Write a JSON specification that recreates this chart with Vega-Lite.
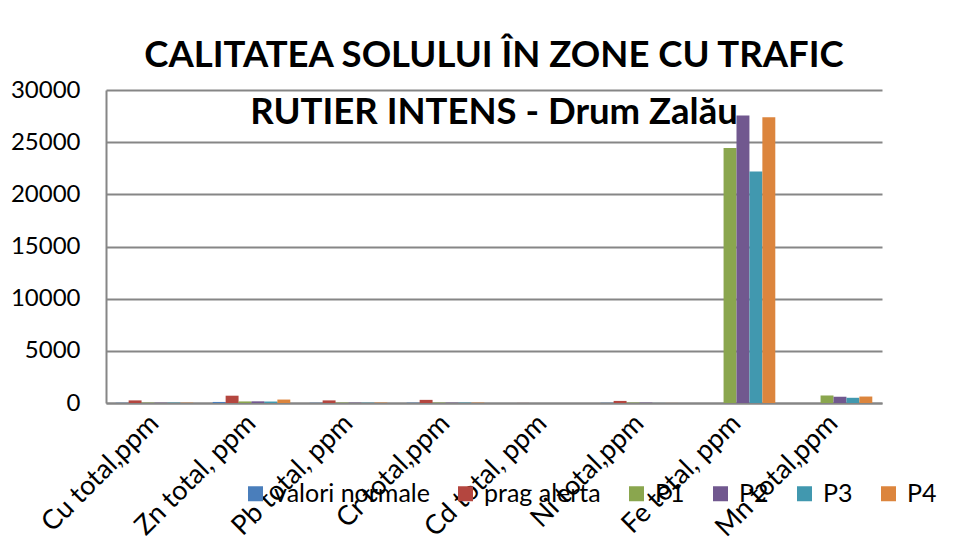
{
  "$schema": "https://vega.github.io/schema/vega-lite/v6.json",
  "autosize": "none",
  "padding": {"left": 106, "top": 90, "right": 76, "bottom": 152},
  "width": 776,
  "height": 313,
  "background": "white",
  "title": {
    "text": ["CALITATEA SOLULUI ÎN ZONE CU TRAFIC", "RUTIER INTENS - Drum Zalău"],
    "font": "Lato",
    "fontSize": 36.5,
    "fontWeight": "bold",
    "color": "#000000",
    "lineHeight": 57,
    "anchor": "middle",
    "offset": -53
  },
  "data": {
    "values": [
      {"cat": "Cu total,ppm", "series": "valori normale", "value": 20},
      {"cat": "Cu total,ppm", "series": "prag alerta", "value": 250},
      {"cat": "Cu total,ppm", "series": "P1", "value": 35},
      {"cat": "Cu total,ppm", "series": "P2", "value": 30},
      {"cat": "Cu total,ppm", "series": "P3", "value": 40},
      {"cat": "Cu total,ppm", "series": "P4", "value": 30},
      {"cat": "Zn total, ppm", "series": "valori normale", "value": 100},
      {"cat": "Zn total, ppm", "series": "prag alerta", "value": 700},
      {"cat": "Zn total, ppm", "series": "P1", "value": 150},
      {"cat": "Zn total, ppm", "series": "P2", "value": 160},
      {"cat": "Zn total, ppm", "series": "P3", "value": 140},
      {"cat": "Zn total, ppm", "series": "P4", "value": 330},
      {"cat": "Pb total, ppm", "series": "valori normale", "value": 20},
      {"cat": "Pb total, ppm", "series": "prag alerta", "value": 250},
      {"cat": "Pb total, ppm", "series": "P1", "value": 40},
      {"cat": "Pb total, ppm", "series": "P2", "value": 35},
      {"cat": "Pb total, ppm", "series": "P3", "value": 30},
      {"cat": "Pb total, ppm", "series": "P4", "value": 40},
      {"cat": "Cr total,ppm", "series": "valori normale", "value": 30},
      {"cat": "Cr total,ppm", "series": "prag alerta", "value": 300},
      {"cat": "Cr total,ppm", "series": "P1", "value": 40},
      {"cat": "Cr total,ppm", "series": "P2", "value": 35},
      {"cat": "Cr total,ppm", "series": "P3", "value": 40},
      {"cat": "Cr total,ppm", "series": "P4", "value": 35},
      {"cat": "Cd total, ppm", "series": "valori normale", "value": 1},
      {"cat": "Cd total, ppm", "series": "prag alerta", "value": 5},
      {"cat": "Cd total, ppm", "series": "P1", "value": 1},
      {"cat": "Cd total, ppm", "series": "P2", "value": 1},
      {"cat": "Cd total, ppm", "series": "P3", "value": 1},
      {"cat": "Cd total, ppm", "series": "P4", "value": 1},
      {"cat": "Ni total,ppm", "series": "valori normale", "value": 20},
      {"cat": "Ni total,ppm", "series": "prag alerta", "value": 200},
      {"cat": "Ni total,ppm", "series": "P1", "value": 40},
      {"cat": "Ni total,ppm", "series": "P2", "value": 35},
      {"cat": "Ni total,ppm", "series": "P3", "value": 5},
      {"cat": "Ni total,ppm", "series": "P4", "value": 5},
      {"cat": "Fe total, ppm", "series": "P1", "value": 24450},
      {"cat": "Fe total, ppm", "series": "P2", "value": 27550},
      {"cat": "Fe total, ppm", "series": "P3", "value": 22200},
      {"cat": "Fe total, ppm", "series": "P4", "value": 27400},
      {"cat": "Mn total,ppm", "series": "P1", "value": 720},
      {"cat": "Mn total,ppm", "series": "P2", "value": 600},
      {"cat": "Mn total,ppm", "series": "P3", "value": 500},
      {"cat": "Mn total,ppm", "series": "P4", "value": 620}
    ]
  },
  "mark": {"type": "bar"},
  "encoding": {
    "x": {
      "field": "cat",
      "type": "nominal",
      "sort": ["Cu total,ppm", "Zn total, ppm", "Pb total, ppm", "Cr total,ppm", "Cd total, ppm", "Ni total,ppm", "Fe total, ppm", "Mn total,ppm"],
      "scale": {"paddingInner": 0.2, "paddingOuter": 0.1},
      "axis": {
        "title": null,
        "labelAngle": -45,
        "labelAlign": "right",
        "labelBaseline": "middle",
        "labelFont": "Lato",
        "labelFontSize": 27,
        "labelColor": "#000000",
        "labelPadding": 16,
        "ticks": false,
        "domainColor": "#868686",
        "domainWidth": 2,
        "grid": false
      }
    },
    "xOffset": {
      "field": "series",
      "type": "nominal",
      "sort": ["valori normale", "prag alerta", "P1", "P2", "P3", "P4"],
      "scale": {"paddingInner": 0, "paddingOuter": 0}
    },
    "y": {
      "field": "value",
      "type": "quantitative",
      "scale": {"domain": [0, 30000], "nice": false},
      "axis": {
        "title": null,
        "values": [0, 5000, 10000, 15000, 20000, 25000, 30000],
        "format": "d",
        "labelFont": "Lato",
        "labelFontSize": 24,
        "labelColor": "#000000",
        "labelPadding": 26,
        "ticks": false,
        "domainColor": "#868686",
        "domainWidth": 2,
        "gridColor": "#868686",
        "gridWidth": 2
      }
    },
    "color": {
      "field": "series",
      "type": "nominal",
      "sort": ["valori normale", "prag alerta", "P1", "P2", "P3", "P4"],
      "scale": {
        "domain": ["valori normale", "prag alerta", "P1", "P2", "P3", "P4"],
        "range": ["#4A7EBB", "#B4463F", "#8AA64E", "#71588F", "#4198AF", "#DC853D"]
      },
      "legend": {
        "title": null,
        "orient": "none",
        "direction": "horizontal",
        "legendX": 137,
        "legendY": 391,
        "padding": 0,
        "symbolType": "square",
        "symbolSize": 225,
        "symbolStrokeWidth": 0,
        "labelFont": "Lato",
        "labelFontSize": 25,
        "labelColor": "#000000",
        "labelOffset": 6,
        "columnPadding": 23
      }
    }
  },
  "config": {
    "view": {"stroke": null}
  }
}
